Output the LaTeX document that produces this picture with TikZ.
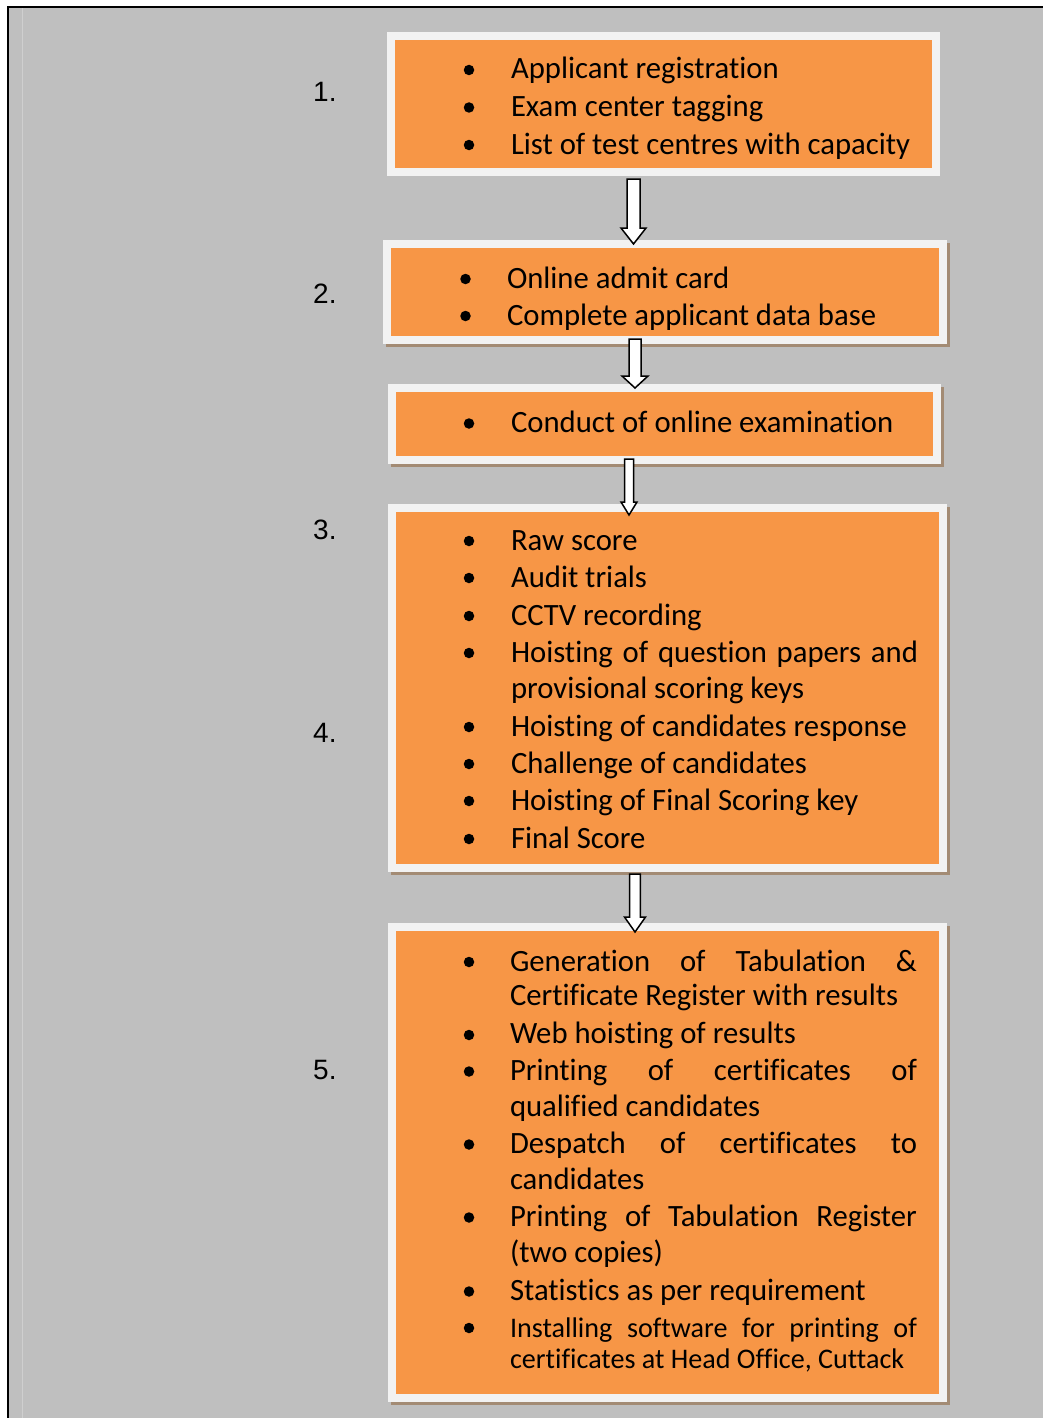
\documentclass[tikz,border=0pt]{standalone}
\usepackage{fontspec}
\setmainfont{Liberation Sans}
\newfontfamily\boxfont[FakeStretch=0.99,Ligatures=NoCommon]{Carlito}
\usetikzlibrary{backgrounds}
\definecolor{bgGray}{HTML}{BFBFBF}
\definecolor{boxOrange}{HTML}{F79646}
\definecolor{boxRim}{HTML}{F2F2F2}
\definecolor{shadowBrown}{HTML}{A38B74}
\definecolor{faintLine}{HTML}{CFCFCF}
\begin{document}
\begin{tikzpicture}[x=1pt,y=-1pt,
  stagebox/.style={rectangle, draw=boxRim, line width=8pt, fill=boxOrange, inner sep=0pt, outer sep=0pt},
  itemtext/.style={anchor=base west, inner sep=0pt, outer sep=0pt, font=\boxfont\fontsize{31}{37}\selectfont},
  smalltext/.style={itemtext, font=\boxfont\fontsize{28.4}{34}\selectfont},
  bulletdot/.style={circle, fill=black, inner sep=0pt, minimum size=10.5pt},
  steplabel/.style={anchor=base west, inner sep=0pt, font=\fontsize{28}{34}\selectfont},
  blockarrow/.style={draw=black, fill=white, line width=1.5pt, line join=miter},
  shadowfill/.style={fill=shadowBrown}]
\useasboundingbox (0,0) rectangle (1043,1418);
\begin{scope}[on background layer]
  \fill[white] (0,0) rectangle (1043,1418);
  \fill[bgGray] (8,7) rectangle (1043,1418);
  \draw[faintLine, line width=1pt] (22,8) -- (22,1418);
  \draw[black, line width=2.5pt] (8,1418) -- (8,7.25) -- (1043,7.25);
\end{scope}

% boxes
\node[stagebox, minimum width=545, minimum height=136] (b1) at (663.5,104) {};
\node[stagebox, minimum width=556, minimum height=96] (b2) at (665,292) {};
\node[stagebox, minimum width=545, minimum height=72] (b3) at (664.5,424) {};
\node[stagebox, minimum width=551, minimum height=360] (b4) at (667.5,688) {};
\node[stagebox, minimum width=551, minimum height=471] (b5) at (667.5,1162.5) {};

\begin{scope}[on background layer]
  \foreach \b in {b2,b3,b4,b5}{
    \fill[shadowfill] ([shift={(-1,-1)}]\b.north west) rectangle ([shift={(7,7)}]\b.south east);
  }
\end{scope}

% step numbers
\node[steplabel] (n1) at (313,102) {1.};
\node[steplabel] (n2) at (313,303.5) {2.};
\node[steplabel] (n3) at (313,539.5) {3.};
\node[steplabel] (n4) at (313,742.5) {4.};
\node[steplabel] (n5) at (313,1079.5) {5.};

% box 1
\node[bulletdot] (d1a) at (469,70) {};
\node[bulletdot] (d1b) at (469,107.5) {};
\node[bulletdot] (d1c) at (469,145) {};
\node[itemtext] (t1a) at (511,79) {Applicant registration};
\node[itemtext] (t1b) at (511,116.5) {Exam center tagging};
\node[itemtext] (t1c) at (511,154) {List of test centres with capacity};

% box 2
\node[bulletdot] (d2a) at (465.5,279) {};
\node[bulletdot] (d2b) at (465.5,316) {};
\node[itemtext] (t2a) at (507,288) {Online admit card};
\node[itemtext] (t2b) at (507,325) {Complete applicant data base};

% box 3
\node[bulletdot] (d3a) at (469,423.5) {};
\node[itemtext] (t3a) at (511,432.7) {Conduct of online examination};

% box 4
\node[bulletdot] (d4a) at (469,541) {};
\node[bulletdot] (d4b) at (469,578) {};
\node[bulletdot] (d4c) at (469,616) {};
\node[bulletdot] (d4d) at (469,653) {};
\node[bulletdot] (d4e) at (469,727) {};
\node[bulletdot] (d4f) at (469,764) {};
\node[bulletdot] (d4g) at (469,801) {};
\node[bulletdot] (d4h) at (469,839) {};
\node[itemtext] (t4a) at (511,550.5) {Raw score};
\node[itemtext] (t4b) at (511,587.5) {Audit trials};
\node[itemtext] (t4c) at (511,625.5) {CCTV recording};
\node[itemtext] (t4d) at (511,662.5) {\makebox[407pt][s]{Hoisting of question papers and}};
\node[itemtext] (t4e) at (511,698.5) {provisional scoring keys};
\node[itemtext] (t4f) at (511,736.5) {Hoisting of candidates response};
\node[itemtext] (t4g) at (511,773.5) {Challenge of candidates};
\node[itemtext] (t4h) at (511,810.5) {Hoisting of Final Scoring key};
\node[itemtext] (t4i) at (511,848.5) {Final Score};

% box 5
\node[bulletdot] (d5a) at (469,962) {};
\node[bulletdot] (d5b) at (469,1035) {};
\node[bulletdot] (d5c) at (469,1071.5) {};
\node[bulletdot] (d5d) at (469,1144.5) {};
\node[bulletdot] (d5e) at (469,1217.5) {};
\node[bulletdot] (d5f) at (469,1291.5) {};
\node[bulletdot] (d5g) at (469,1328) {};
\node[itemtext] (t5a) at (510,971) {\makebox[407pt][s]{Generation of Tabulation \&}};
\node[itemtext] (t5b) at (510,1005.5) {Certificate Register with results};
\node[itemtext] (t5c) at (510,1043) {Web hoisting of results};
\node[itemtext] (t5d) at (510,1080.5) {\makebox[407pt][s]{Printing of certificates of}};
\node[itemtext] (t5e) at (510,1116.5) {qualified candidates};
\node[itemtext] (t5f) at (510,1153.5) {\makebox[407pt][s]{Despatch of certificates to}};
\node[itemtext] (t5g) at (510,1189.5) {candidates};
\node[itemtext] (t5h) at (510,1226.5) {\makebox[407pt][s]{Printing of Tabulation Register}};
\node[itemtext] (t5i) at (510,1262.5) {(two copies)};
\node[itemtext] (t5j) at (510,1300.5) {Statistics as per requirement};
\node[smalltext] (t5k) at (510,1337) {\makebox[407pt][s]{Installing software for printing of}};
\node[smalltext] (t5l) at (510,1368) {certificates at Head Office, Cuttack};

% block arrows
\draw[blockarrow] (627,179) -- (640,179) -- (640,228) -- (646,228) -- (633.5,244) -- (621,228) -- (627,228) -- cycle;
\draw[blockarrow] (629,339) -- (641,339) -- (641,376) -- (648,376) -- (635,388) -- (622,376) -- (629,376) -- cycle;
\draw[blockarrow] (624.5,459) -- (633.5,459) -- (633.5,502) -- (637,502) -- (629,515) -- (621,502) -- (624.5,502) -- cycle;
\draw[blockarrow] (629.7,874) -- (640.3,874) -- (640.3,917) -- (645.5,917) -- (635,932) -- (624.5,917) -- (629.7,917) -- cycle;
\end{tikzpicture}
\end{document}
